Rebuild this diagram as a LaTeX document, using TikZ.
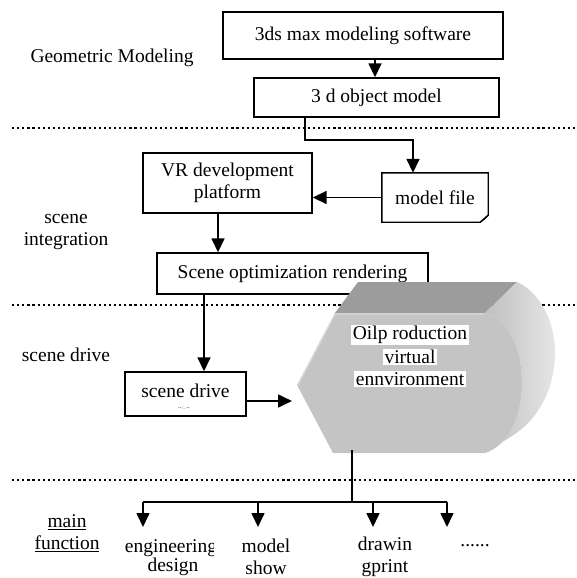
\documentclass[tikz,border=0pt]{standalone}
\usepackage{fontspec}
\setmainfont{Liberation Serif}
\usetikzlibrary{arrows.meta}
\begin{document}
\begin{tikzpicture}[x=1pt,y=-1pt,
  box/.style={draw,line width=1.4pt,inner sep=0pt,align=center},
  arr/.style={line width=1.6pt,-{Triangle[length=14pt,width=13pt]}},
  ln/.style={line width=1.6pt},
  sepline/.style={line width=2.2pt,dash pattern=on 2.2pt off 2.9pt},
  lbl/.style={align=center,inner sep=0pt},
  whitetext/.style={align=center,fill=white,inner sep=1.5pt},
  every node/.style={font=\fontsize{19.5}{22.5}\selectfont}]
\useasboundingbox (0,0) rectangle (576,578);

% separators
\draw[sepline] (12,128) -- (576,128);
\draw[sepline] (12,305) -- (576,305);
\draw[sepline] (12,480) -- (576,480);

% left labels
\node[lbl] (lgeo) at (112,58) {Geometric Modeling};
\node[lbl] (lint) at (66,232) {scene\\integration};
\node[lbl] (ldrv) at (66,355) {scene drive};
\node[lbl] (lmain) at (67,533) {\underline{main}\\\underline{function}};

% boxes
\node[box,minimum width=280pt,minimum height=47pt] (soft) at (363,35.5) {3ds max modeling software};
\node[box,minimum width=245pt,minimum height=39pt] (obj) at (376.5,97.5) {3 d object model};
\node[lbl,minimum width=106pt,minimum height=49pt] (mf) at (435,197.5) {model file};
\draw[line width=1.4pt] (mf.north west) -- (mf.north east) -- ([yshift=7pt]mf.south east)
  -- ([xshift=-8pt]mf.south east) -- (mf.south west) -- cycle;
\draw[line width=1pt,fill=black] ([yshift=7pt]mf.south east) -- ([xshift=-4pt,yshift=3pt]mf.south east)
  -- ([xshift=-8pt]mf.south east);
\node[box,minimum width=169pt,minimum height=60pt] (vr) at (227.5,183) {VR development\\platform};
\node[box,minimum width=271pt,minimum height=41pt] (opt) at (292.5,273.5) {Scene optimization rendering};
\node[box,minimum width=121pt,minimum height=44pt] (sd) at (185.5,394) {};
\node[lbl] (sdt) at (185.5,391) {scene drive};
\node[lbl,font=\fontsize{5}{5}\selectfont] (sdg) at (184,408) {-{}-\,:\,.\,-{}-};

% 3D environment shape
\fill[gray!78!white] (335,313) -- (358,282) -- (517,282) -- (485,313) -- cycle;
\shade[left color=gray!50!white,right color=gray!20!white]
  (485,313) -- (517,282) .. controls (540,292) and (555,322) .. (555,352)
  .. controls (555,392) and (536,421) .. (512,436) -- (485,453)
  .. controls (508,445) and (522,418) .. (522,383)
  .. controls (522,350) and (510,320) .. (485,313) -- cycle;
\fill[gray!46!white] (297,385) -- (335,313) -- (485,313)
  .. controls (510,320) and (522,350) .. (522,383)
  .. controls (522,418) and (508,445) .. (485,453) -- (333,453) -- cycle;
\draw[gray!30!white,line width=1.2pt] (298,385) -- (335,314) -- (484,314);
\coordinate (envA) at (292,401);
\coordinate (envB) at (352,450);
\node[whitetext] (e1) at (410,335) {Oilp roduction};
\node[whitetext] (e2) at (410,357) {virtual};
\node[whitetext] (e3) at (410,379) {ennvironment};

% connectors
\draw[arr] (soft.south -| 375,0) -- (obj.north -| 375,0);
\coordinate (c1) at (305,140);
\coordinate (c2) at (413,140);
\draw[arr] (obj.south -| c1) -- (c1) -- (c2) -- (mf.north -| c2);
\draw[arr] (mf.west) -- (vr.east |- mf.west);
\draw[arr] (vr.south -| 218,0) -- (opt.north -| 218,0);
\draw[arr] (opt.south -| 204,0) -- (sd.north -| 204,0);
\draw[arr] (sd.east |- envA) -- (envA);

% main functions
\coordinate (br) at (352,502);
\coordinate (b1) at (143,502);
\coordinate (b4) at (447,502);
\begin{scope}
\clip (100,530) rectangle (213,560);
\node[lbl] (f1a) at (171,548) {engineering};
\end{scope}
\node[lbl] (f1b) at (173,567) {design};
\node[lbl] (f2) at (266,557) {model\\show};
\node[lbl] (f3) at (385,557) {drawin\\gprint};
\node[lbl,anchor=base] (f4) at (475,546) {......};
\draw[ln] (envB) -- (br);
\draw[ln] (b1) -- (b4);
\draw[arr] (b1) -- (143,527);
\draw[arr] (258,502) -- (258,527);
\draw[arr] (373,502) -- (373,527);
\draw[arr] (b4) -- (447,527);
\end{tikzpicture}
\end{document}
